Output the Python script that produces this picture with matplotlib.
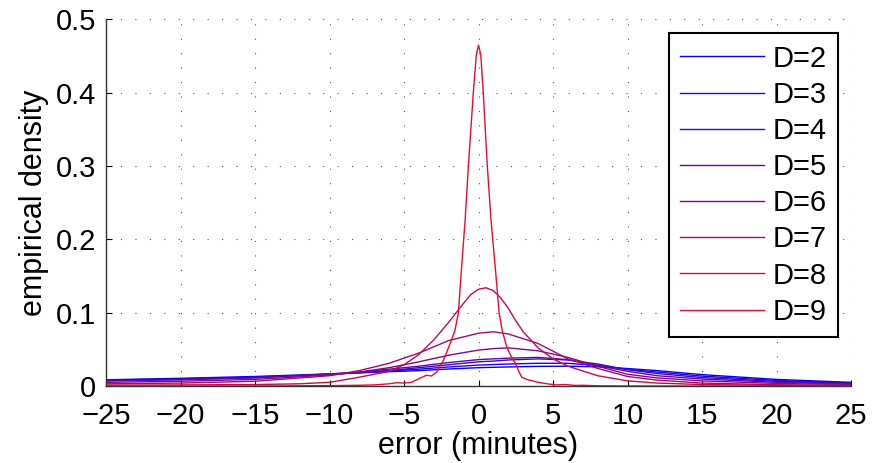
import matplotlib
matplotlib.use("Agg")
import matplotlib.pyplot as plt

plt.rcParams['font.family'] = ['Liberation Sans', 'DejaVu Sans']

# error grid (minutes) for the broad curves
x_wide = [-25, -20, -15, -10, -8, -6, -4, -2, 0, 1, 2, 4, 6, 8, 10, 12, 15, 20, 25]

d2 = [0.0085, 0.0105, 0.013, 0.0165, 0.018, 0.0195, 0.021, 0.0232, 0.025, 0.0255, 0.026,
      0.0268, 0.027, 0.0262, 0.0238, 0.021, 0.0155, 0.009, 0.005]
d3 = [0.008, 0.0098, 0.0122, 0.016, 0.018, 0.0205, 0.023, 0.026, 0.0285, 0.0293, 0.030,
      0.031, 0.031, 0.028, 0.0228, 0.019, 0.0135, 0.0075, 0.0042]
d4 = [0.0075, 0.009, 0.0115, 0.016, 0.0185, 0.021, 0.025, 0.029, 0.033, 0.034, 0.0355,
      0.037, 0.0355, 0.030, 0.0222, 0.017, 0.0115, 0.0063, 0.0035]
d5 = [0.0068, 0.0085, 0.011, 0.0165, 0.019, 0.023, 0.027, 0.032, 0.036, 0.037, 0.038,
      0.039, 0.036, 0.028, 0.020, 0.014, 0.0095, 0.005, 0.0028]
d6 = [0.005, 0.0065, 0.009, 0.015, 0.019, 0.025, 0.033, 0.042, 0.049, 0.051, 0.052,
      0.048, 0.039, 0.027, 0.016, 0.011, 0.007, 0.0035, 0.002]
d7 = [0.003, 0.004, 0.0065, 0.014, 0.021, 0.031, 0.045, 0.062, 0.072, 0.074, 0.071,
      0.058, 0.037, 0.024, 0.013, 0.008, 0.004, 0.0017, 0.001]

x_d8 = [-25, -20, -15, -12, -10, -8, -6, -5, -4, -3, -2.5, -2, -1.5, -1, -0.5, 0, 0.5, 1,
        1.5, 2, 2.5, 3, 4, 5, 6, 8, 10, 12, 15, 20, 25]
d8 = [0.0012, 0.0015, 0.002, 0.003, 0.005, 0.012, 0.020, 0.029, 0.043, 0.063, 0.075, 0.087,
      0.100, 0.113, 0.125, 0.132, 0.134, 0.130, 0.120, 0.106, 0.089, 0.074, 0.052, 0.037,
      0.027, 0.014, 0.007, 0.004, 0.002, 0.0008, 0.0004]

x_d9 = [-25, -15, -10, -8, -7, -6, -5.5, -5, -4.5, -4.0, -3.5, -3.15, -2.8, -2.36, -1.9,
        -1.58, -1.35, -1.2, -0.9, -0.68, -0.35, -0.15, 0, 0.15, 0.32, 0.59, 0.84, 1.2,
        1.38, 1.6, 1.9, 2.2, 2.5, 2.7, 2.9, 3.25, 3.9, 4.6, 5.2, 5.8, 6.5, 7, 8, 10, 15, 25]
d9 = [0, 0, 0.0005, 0.001, 0.0015, 0.003, 0.0045, 0.004, 0.005, 0.010, 0.0146, 0.0137,
      0.019, 0.035, 0.058, 0.076, 0.1, 0.144, 0.226, 0.3, 0.4, 0.452, 0.465, 0.452, 0.4,
      0.3, 0.226, 0.144, 0.1, 0.075, 0.053, 0.04, 0.03, 0.02, 0.012, 0.009, 0.0055, 0.003,
      0.0015, 0.002, 0.0008, 0.001, 0.0003, 0, 0, 0]

labels = ['D=2', 'D=3', 'D=4', 'D=5', 'D=6', 'D=7', 'D=8', 'D=9']
xs = [x_wide] * 6 + [x_d8, x_d9]
ys = [d2, d3, d4, d5, d6, d7, d8, d9]

xtick_vals = [-25, -20, -15, -10, -5, 0, 5, 10, 15, 20, 25]
ytick_vals = [0, 0.1, 0.2, 0.3, 0.4, 0.5]
ytick_labels = ['0', '0.1', '0.2', '0.3', '0.4', '0.5']

fig = plt.figure(figsize=(8.74, 4.63), dpi=100)
ax = fig.add_axes([0.1213, 0.1663, 0.8524, 0.7916])

n = len(labels)
for i in range(n):
    t = i / (n - 1)
    col = (0.9 * t, 0.05 * t, 1 - 0.8 * t)
    ax.plot(xs[i], ys[i], color=col, lw=1.0, label=labels[i])

ax.set_xlim(-25, 25)
ax.set_ylim(0, 0.5)
ax.set_xticks(xtick_vals)
ax.set_yticks(ytick_vals)
ax.set_yticklabels(ytick_labels)
ax.tick_params(direction='in', length=4, width=0.8, labelsize=21,
               top=False, right=False)
ax.tick_params(axis='x', pad=11.5)
ax.tick_params(axis='y', pad=7)

ax.grid(True, color='#555555', linestyle=(0, (1, 12)), linewidth=0.8)
for s in ['top', 'right']:
    ax.spines[s].set_visible(False)
for s in ['left', 'bottom']:
    ax.spines[s].set_color('#333333')
    ax.spines[s].set_linewidth(1.0)

ax.set_xlabel('error (minutes)', fontsize=22, labelpad=1)
ax.set_ylabel('empirical density', fontsize=22, labelpad=5)

leg = ax.legend(loc='upper right', bbox_to_anchor=(0.9826, 0.9632), borderaxespad=0,
                fontsize=21, handlelength=2.85, handletextpad=0.3, labelspacing=0.28,
                borderpad=0.4, fancybox=False, framealpha=1, edgecolor='black')
leg.get_frame().set_linewidth(1.5)

fig.savefig('out.png', dpi=100)
